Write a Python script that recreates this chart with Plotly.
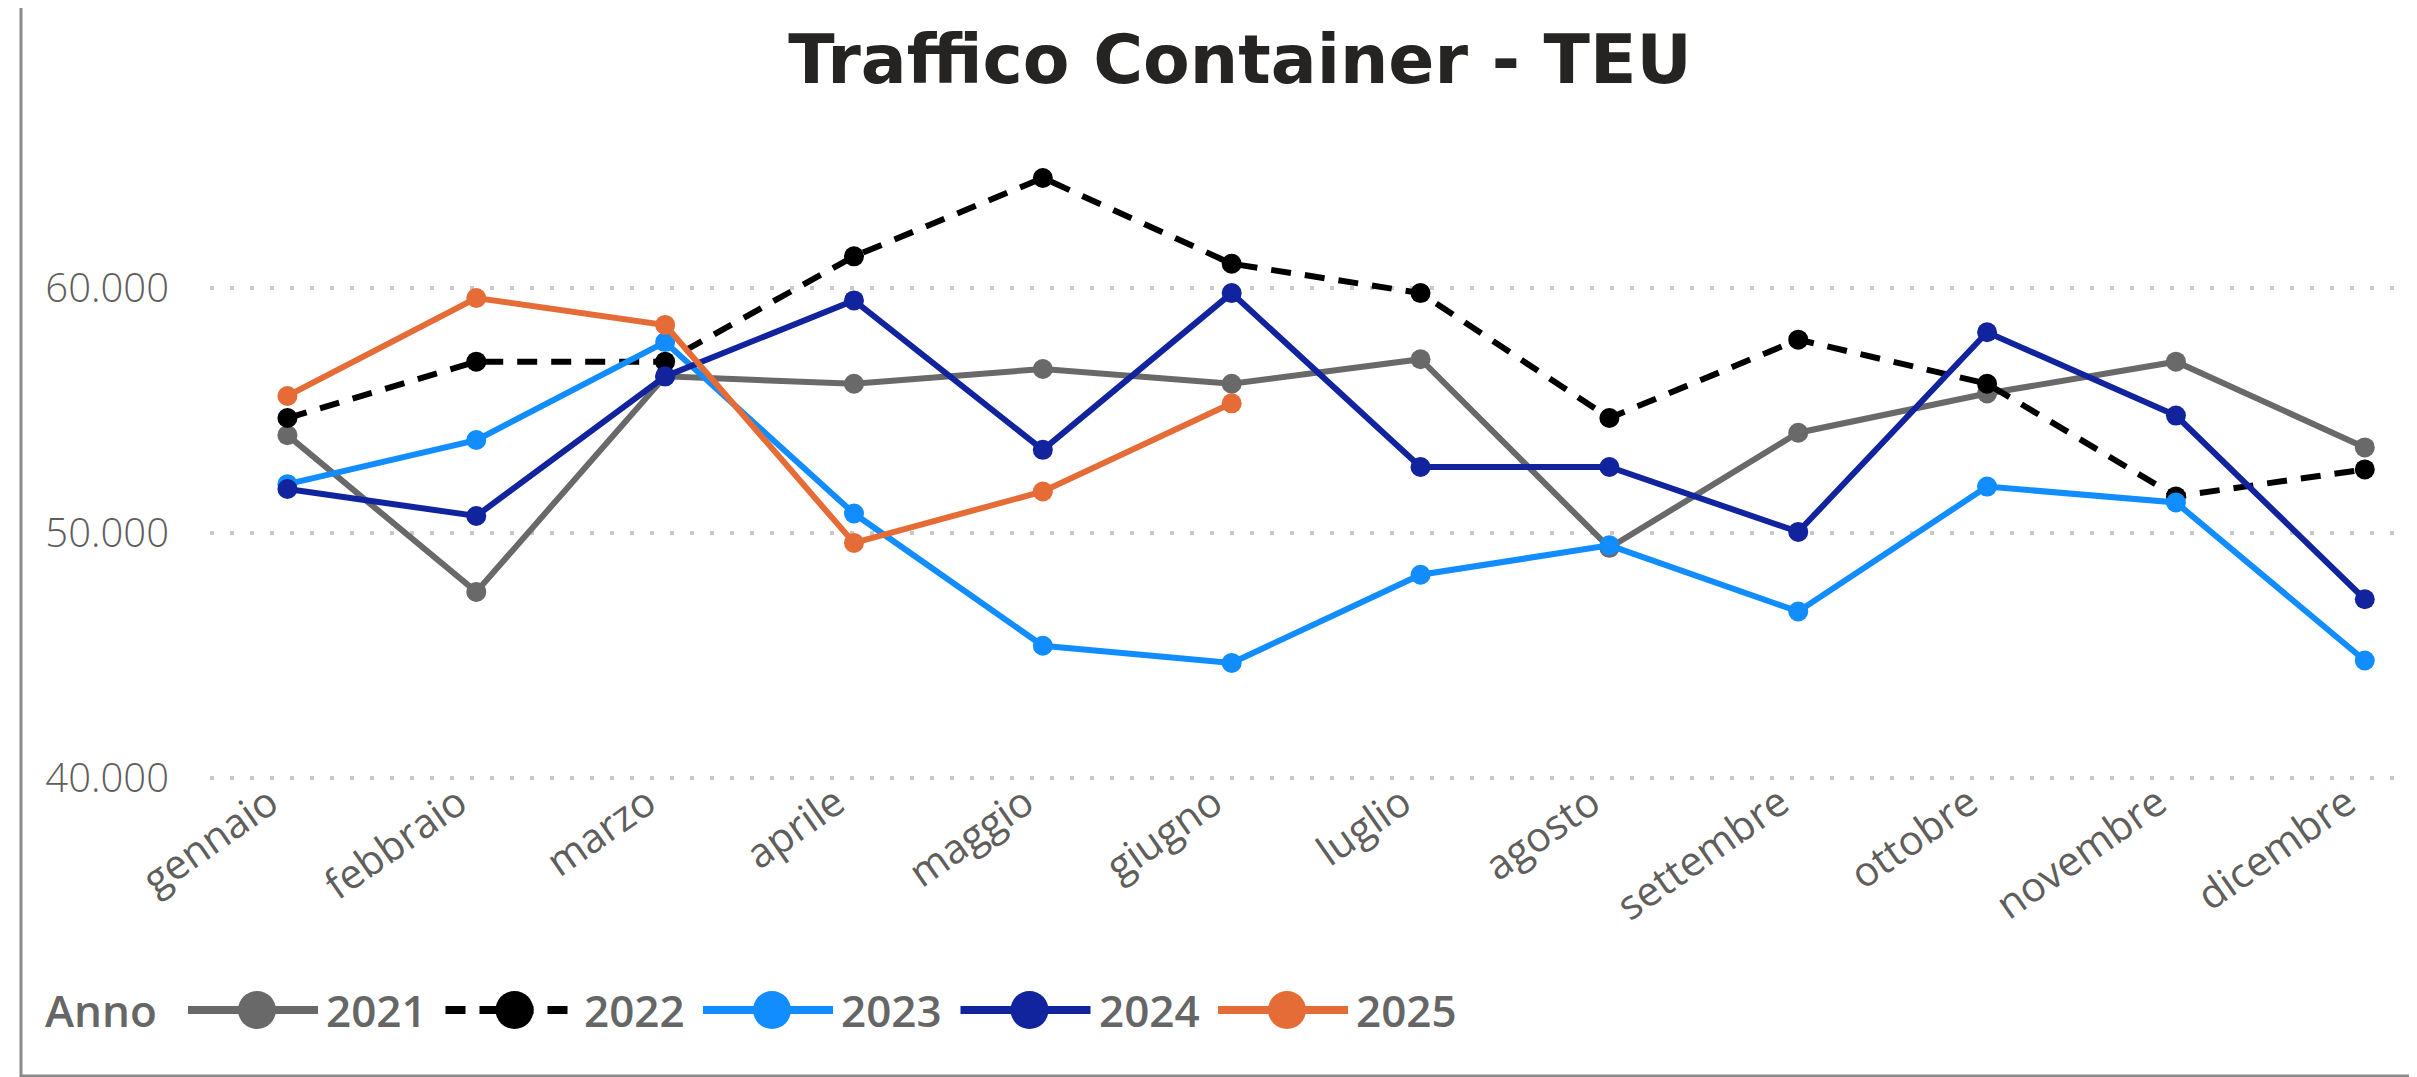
import plotly.graph_objects as go

months = ["gennaio", "febbraio", "marzo", "aprile", "maggio", "giugno",
          "luglio", "agosto", "settembre", "ottobre", "novembre", "dicembre"]

y2021 = [54000, 47600, 56400, 56100, 56700, 56100, 57100, 49400, 54100, 55700, 57000, 53500]
y2022 = [54700, 57000, 57000, 61300, 64500, 61000, 59800, 54700, 57900, 56100, 51500, 52600]
y2023 = [52000, 53800, 57800, 50800, 45400, 44700, 48300, 49500, 46800, 51900, 51250, 44800]
y2024 = [51800, 50700, 56400, 59500, 53400, 59800, 52700, 52700, 50050, 58200, 54800, 47300]
y2025 = [55600, 59600, 58500, 49600, 51700, 55300, None, None, None, None, None, None]

years = ["2021", "2022", "2023", "2024", "2025"]
series = [y2021, y2022, y2023, y2024, y2025]
colors = ["#696969", "#000000", "#118DFF", "#12239E", "#E66C37"]
dashes = ["solid", "20px,14px", "solid", "solid", "solid"]

y_ticks = [40000, 50000, 60000]

# page has an 8px body margin: work in target-image pixels and shift
OFF = 8
W, H = 2417 - OFF, 1077 - OFF
L, R, T = 210 - OFF, 5, 129 - OFF
B = H - (780 - OFF)
PW, PH = W - L - R, H - T - B

def px(x):
    return (x - OFF - L) / PW

def py(y):
    return (H - B - (y - OFF)) / PH

fig = go.Figure()
for name, vals, col, d in zip(years, series, colors, dashes):
    fig.add_trace(go.Scatter(
        x=months, y=vals, name=name, mode="lines+markers",
        line=dict(color=col, width=6, dash=d),
        marker=dict(color=col, size=20),
        showlegend=False,
    ))

shapes = []
annotations = []
# border
shapes.append(dict(type="rect", xref="paper", yref="paper",
                   x0=px(21), x1=px(2425), y0=py(1076), y1=py(6),
                   line=dict(color="#8a8a8a", width=3), fillcolor="rgba(0,0,0,0)", layer="below"))

# custom legend
leg_y = py(1010)
annotations.append(dict(text="Anno", xref="paper", yref="paper", x=px(43), y=leg_y,
                        xanchor="left", yanchor="middle", showarrow=False,
                        font=dict(family="Open Sans", size=44, color="#666666", weight=600)))
for i, (name, col, d) in enumerate(zip(years, colors, dashes)):
    x0 = 188 + i * 257.5
    shapes.append(dict(type="line", xref="paper", yref="paper",
                       x0=px(x0), x1=px(x0 + 130), y0=leg_y, y1=leg_y,
                       line=dict(color=col, width=8, dash=d)))
    shapes.append(dict(type="circle", xref="paper", yref="paper",
                       xsizemode="pixel", ysizemode="pixel",
                       xanchor=px(x0 + 69), yanchor=leg_y,
                       x0=-19, x1=19, y0=-19, y1=19,
                       fillcolor=col, line=dict(width=0)))
    annotations.append(dict(text=name, xref="paper", yref="paper", x=px(x0 + 136), y=leg_y,
                            xanchor="left", yanchor="middle", showarrow=False,
                            font=dict(family="Open Sans", size=44, color="#666666", weight=600)))

fig.update_layout(
    width=W, height=H,
    margin=dict(l=L, r=R, t=T, b=B),
    paper_bgcolor="white", plot_bgcolor="white",
    separators=",.",
    font=dict(family="Open Sans", color="#605E5C"),
    title=dict(text="Traffico Container - TEU", x=(1240 - OFF) / W, xanchor="center", xref="container",
               y=1 - (59 - OFF) / H, yanchor="middle",
               font=dict(family="DejaVu Sans", size=68, color="#252423", weight="bold")),
    xaxis=dict(type="category", range=[-0.41, 11.25], showgrid=False, zeroline=False,
               showline=False, tickangle=-35, tickfont=dict(size=41, color="#605E5C"),
               ticks="", ticklabelshift=-18, anchor="free", position=10 / PH),
    yaxis=dict(range=[39920, 66500], tickvals=y_ticks, tickformat=",d",
               showgrid=True, gridcolor="#C8C8C8", gridwidth=3.5, griddash="4px,16px",
               zeroline=False, showline=False, ticks="", ticklabelstandoff=40,
               tickfont=dict(size=40, color="#605E5C", weight=300)),
    shapes=shapes, annotations=annotations,
    showlegend=False,
)

fig.write_html("out.html")
